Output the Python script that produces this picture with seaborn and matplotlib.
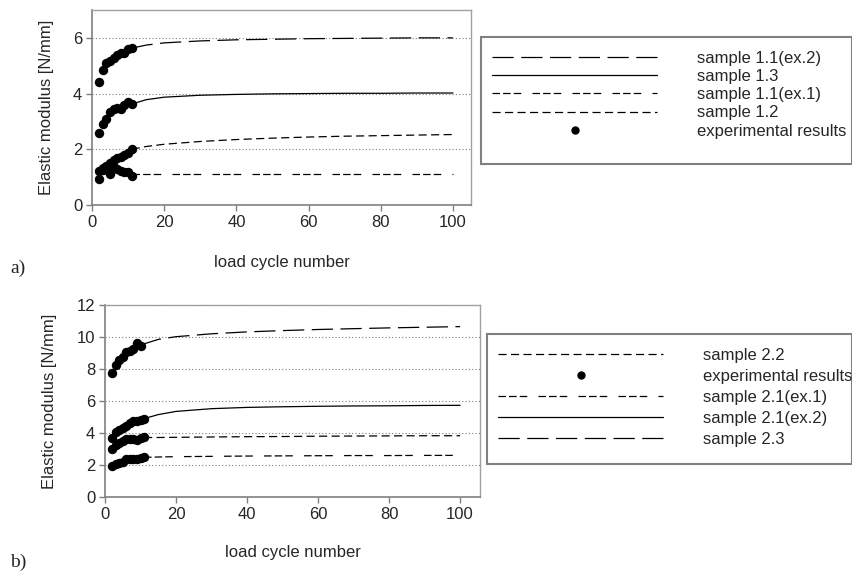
import numpy as np
import pandas as pd
import matplotlib
matplotlib.use("Agg")
import matplotlib.pyplot as plt
from matplotlib.lines import Line2D
from matplotlib.patches import Rectangle
import seaborn as sns

sns.set_style("white")
plt.rcParams['font.family'] = ['Liberation Sans', 'DejaVu Sans']

# ---------------- data: panel a ----------------
cycles_exp = [2, 3, 4, 5, 6, 7, 8, 9, 10, 11]
a_exp_11ex2 = [4.41, 4.84, 5.08, 5.16, 5.28, 5.38, 5.44, 5.46, 5.60, 5.64]
a_exp_13 = [2.58, 2.91, 3.10, 3.33, 3.43, 3.48, 3.45, 3.60, 3.69, 3.62]
a_exp_12 = [1.22, 1.32, 1.41, 1.50, 1.60, 1.68, 1.74, 1.80, 1.88, 2.00]
a_exp_11ex1 = [0.92, 1.25, 1.32, 1.10, 1.35, 1.28, 1.22, 1.20, 1.20, 1.04]

fit_x = [11, 15, 20, 30, 40, 50, 60, 70, 80, 90, 100]
a_fit_11ex2 = [5.63, 5.74, 5.82, 5.89, 5.93, 5.95, 5.97, 5.98, 5.99, 6.00, 6.00]
a_fit_13 = [3.62, 3.78, 3.87, 3.94, 3.97, 3.99, 4.00, 4.01, 4.01, 4.02, 4.02]
a_fit_12 = [2.00, 2.10, 2.18, 2.28, 2.35, 2.40, 2.44, 2.47, 2.49, 2.51, 2.53]
a_fit_11ex1 = [1.12, 1.12, 1.12, 1.12, 1.12, 1.12, 1.12, 1.12, 1.12, 1.12, 1.12]

a_labels = ["sample 1.1(ex.2)", "sample 1.3", "sample 1.1(ex.1)", "sample 1.2",
            "experimental results"]

# ---------------- data: panel b ----------------
cycles_exp_b_top = [2, 3, 4, 5, 6, 7, 8, 9, 10]
b_exp_23 = [7.77, 8.25, 8.56, 8.77, 9.04, 9.15, 9.23, 9.65, 9.44]
b_exp_21ex2 = [3.71, 4.04, 4.19, 4.29, 4.44, 4.65, 4.73, 4.77, 4.81, 4.90]
b_exp_22 = [3.02, 3.25, 3.40, 3.52, 3.63, 3.65, 3.63, 3.58, 3.67, 3.75]
b_exp_21ex1 = [1.94, 2.08, 2.15, 2.19, 2.35, 2.38, 2.40, 2.38, 2.42, 2.48]

fit_x_b_top = [10, 15, 20, 30, 40, 50, 60, 70, 80, 90, 100]
b_fit_23 = [9.50, 9.85, 10.02, 10.20, 10.32, 10.40, 10.47, 10.52, 10.57, 10.61, 10.65]
b_fit_21ex2 = [4.90, 5.15, 5.35, 5.52, 5.60, 5.64, 5.67, 5.69, 5.70, 5.72, 5.73]
b_fit_22 = [3.72, 3.72, 3.73, 3.75, 3.77, 3.78, 3.80, 3.81, 3.82, 3.83, 3.83]
b_fit_21ex1 = [2.48, 2.50, 2.52, 2.54, 2.56, 2.57, 2.58, 2.59, 2.59, 2.60, 2.60]

b_labels = ["sample 2.2", "experimental results", "sample 2.1(ex.1)",
            "sample 2.1(ex.2)", "sample 2.3"]

# ---------------- styles ----------------
LW = 0.9
LONG = (0, (17, 6))
SOLID = '-'
GROUP = (0, (6, 2.5, 6, 2.5, 6, 9))
SHORT = (0, (6.5, 3.5))
GRAY = '#808080'
FS = 12

fig = plt.figure(figsize=(8.53, 5.71), dpi=100)
W, H = 853.0, 571.0


def make_ax(left, top, right, bottom):
    return fig.add_axes([left / W, 1 - bottom / H, (right - left) / W, (bottom - top) / H])


def style_ax(ax, xmax, ymax, yticks):
    ax.set_xlim(0, xmax)
    ax.set_ylim(0, ymax)
    ax.set_xticks([0, 20, 40, 60, 80, 100])
    ax.set_yticks(yticks)
    ax.tick_params(axis='both', direction='out', length=4, width=1, color=GRAY,
                   labelsize=FS, pad=3, left=True, bottom=True)
    for s in ['left', 'bottom']:
        ax.spines[s].set_color(GRAY)
        ax.spines[s].set_linewidth(1.2)
    for s in ['top', 'right']:
        ax.spines[s].set_color('#a0a0a0')
        ax.spines[s].set_linewidth(1.0)
    for yv in yticks[1:]:
        ax.axhline(yv, color=GRAY, lw=0.8, ls=(0, (1, 2)), zorder=0)
    ax.set_xlabel("load cycle number", fontsize=FS)
    ax.set_ylabel("Elastic modulus [N/mm]", fontsize=FS)
    ax.xaxis.label.set_verticalalignment('center')
    ax.yaxis.label.set_verticalalignment('center')


def fit_line(ax, x, y, ls):
    sns.lineplot(x=x, y=y, ax=ax, color='black', lw=LW, legend=False, sort=False)
    ax.lines[-1].set_linestyle(ls)


def dots(ax, x, y):
    sns.scatterplot(x=x, y=y, ax=ax, color='black', s=46, linewidth=0, legend=False,
                    zorder=5)


# ---------------- panel a ----------------
axa = make_ax(92, 10, 471, 205)
style_ax(axa, 105, 7, [0, 2, 4, 6])
fit_line(axa, fit_x, a_fit_11ex2, LONG)
fit_line(axa, fit_x, a_fit_13, SOLID)
fit_line(axa, fit_x, a_fit_11ex1, GROUP)
fit_line(axa, fit_x, a_fit_12, SHORT)
for ys in [a_exp_11ex2, a_exp_13, a_exp_12, a_exp_11ex1]:
    dots(axa, cycles_exp, ys)
axa.xaxis.set_label_coords(0.5, (205 - 262) / 195.0)
axa.yaxis.set_label_coords((47 - 92) / 379.0, 0.5)

# ---------------- panel b ----------------
axb = make_ax(105, 305, 480, 497)
style_ax(axb, 105.6, 12, [0, 2, 4, 6, 8, 10, 12])
fit_line(axb, fit_x_b_top, b_fit_23, LONG)
fit_line(axb, fit_x, b_fit_21ex2, SOLID)
fit_line(axb, fit_x, b_fit_22, SHORT)
fit_line(axb, fit_x, b_fit_21ex1, GROUP)
dots(axb, cycles_exp_b_top, b_exp_23)
for ys in [b_exp_21ex2, b_exp_22, b_exp_21ex1]:
    dots(axb, cycles_exp, ys)
axb.xaxis.set_label_coords(0.5, (497 - 552) / 192.0)
axb.yaxis.set_label_coords((50 - 105) / 375.0, 0.5)

# ---------------- legends ----------------
def h_line(ls):
    return Line2D([0], [0], color='black', lw=LW, ls=ls)


def h_dot():
    return Line2D([0], [0], color='black', marker='o', ls='none', markersize=5)


def legend_box(x0, y0, x1, y1, handles, labels, row_top, spacing):
    fig.patches.append(Rectangle((x0 / W, 1 - y1 / H), (x1 - x0) / W, (y1 - y0) / H,
                                 transform=fig.transFigure, fill=False,
                                 edgecolor=GRAY, lw=1.5))
    fig.legend(handles, labels, loc='upper left',
               bbox_to_anchor=((x0 + 11) / W, 1 - row_top / H),
               frameon=False, fontsize=FS, handlelength=9.9, handletextpad=2.4,
               borderpad=0, borderaxespad=0, labelspacing=spacing, numpoints=1)


legend_box(481, 37, 852, 164,
           [h_line(LONG), h_line(SOLID), h_line(GROUP), h_line(SHORT), h_dot()],
           a_labels, 51, 0.19)
legend_box(487, 334, 852, 464,
           [h_line(SHORT), h_dot(), h_line(GROUP), h_line(SOLID), h_line(LONG)],
           b_labels, 348, 0.36)

# ---------------- panel tags ----------------
fig.text(10 / W, 1 - 268 / H, "a)", fontsize=14, family=['Liberation Serif', 'DejaVu Serif'],
         va='center', ha='left')
fig.text(10 / W, 1 - 562 / H, "b)", fontsize=14, family=['Liberation Serif', 'DejaVu Serif'],
         va='center', ha='left')

fig.savefig("out.png", dpi=100)
